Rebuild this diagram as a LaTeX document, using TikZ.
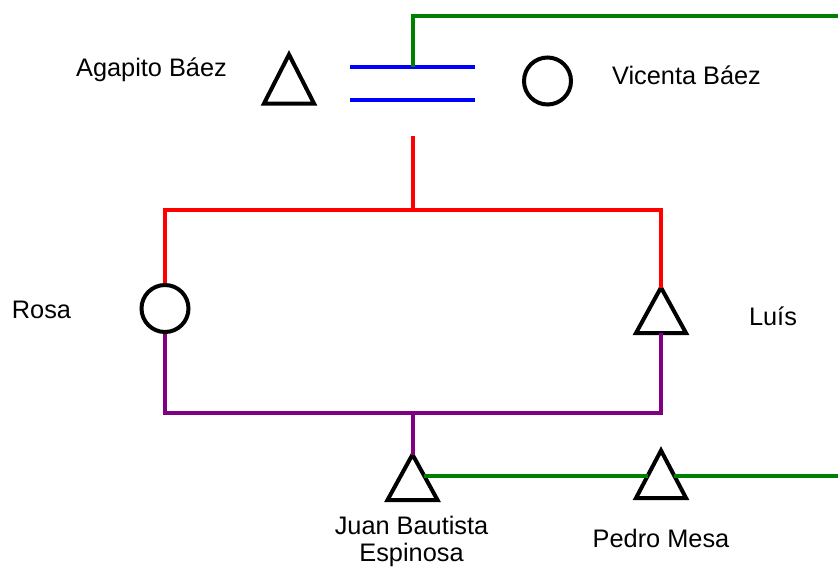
\documentclass[tikz,border=0pt]{standalone}
\usepackage{fontspec}
\setmainfont{Liberation Sans}
\definecolor{lred}{HTML}{FF0000}
\definecolor{lblue}{HTML}{0000FF}
\definecolor{lgreen}{HTML}{008000}
\definecolor{lpurple}{HTML}{800080}
\begin{document}
\begin{tikzpicture}[x=0.75pt,y=-0.75pt,
  sym/.style={draw=black, line width=3pt, line join=miter},
  circ/.style={circle, draw=black, line width=3pt, minimum size=35.25pt, inner sep=0pt},
  lbl/.style={font=\fontsize{19}{20.25}\selectfont, inner sep=0pt, anchor=base, align=center},
  conn/.style={line width=3pt}]
\useasboundingbox (0,0) rectangle (838,572);
% persons
\coordinate (agapito) at (289,54.5);
\draw[sym] (agapito) -- ++(-25,49) -- ++(50,0) -- cycle;
\node[circ] (vicenta) at (547.5,81) {};
\node[circ] (rosa) at (165,308.5) {};
\coordinate (luis) at (661,287.5);
\coordinate (luisbase) at (661,333);
\draw[sym] (luis) -- ++(-25,45.5) -- ++(50,0) -- cycle;
\coordinate (juan) at (412.5,454.5);
\draw[sym] (juan) -- ++(-25,45.5) -- ++(50,0) -- cycle;
\coordinate (pedro) at (661,450.5);
\draw[sym] (pedro) -- ++(-25,47.5) -- ++(50,0) -- cycle;
% marriage
\coordinate (b1w) at (350,67);
\coordinate (b1e) at (475,67);
\coordinate (b2w) at (350,99.5);
\coordinate (b2e) at (475,99.5);
\draw[conn, lblue] (b1w) -- (b1e);
\draw[conn, lblue] (b2w) -- (b2e);
\coordinate (bm) at (412.5,67);
\coordinate (gtop) at (840,15.5);
\draw[conn, lgreen] (bm) |- (gtop);
% descent
\coordinate (mar) at (412.5,136);
\coordinate (sib) at (412.5,210);
\draw[conn, lred] (mar) -- (sib);
\draw[conn, lred] (rosa.north) |- (sib) -| (luis);
\coordinate (fam) at (412.5,412.5);
\draw[conn, lpurple] (rosa.south) |- (fam) -| (luisbase);
\draw[conn, lpurple] (fam) -- (juan);
% bottom green
\coordinate (juanr) at (424,475.5);
\coordinate (pedrol) at (648,475.5);
\coordinate (pedror) at (674,475.5);
\coordinate (gbot) at (840,475.5);
\draw[conn, lgreen] (juanr) -- (pedrol);
\draw[conn, lgreen] (pedror) -- (gbot);
% labels
\node[lbl] (lagapito) at (151.5,76) {Agapito Báez};
\node[lbl] (lvicenta) at (686.5,84) {Vicenta Báez};
\node[lbl] (lrosa) at (41.5,318) {Rosa};
\node[lbl] (lluis) at (773,325) {Luís};
\node[lbl] (ljuan) at (411.5,561) {Juan Bautista\\Espinosa};
\node[lbl] (lpedro) at (661,547) {Pedro Mesa};
\end{tikzpicture}
\end{document}
